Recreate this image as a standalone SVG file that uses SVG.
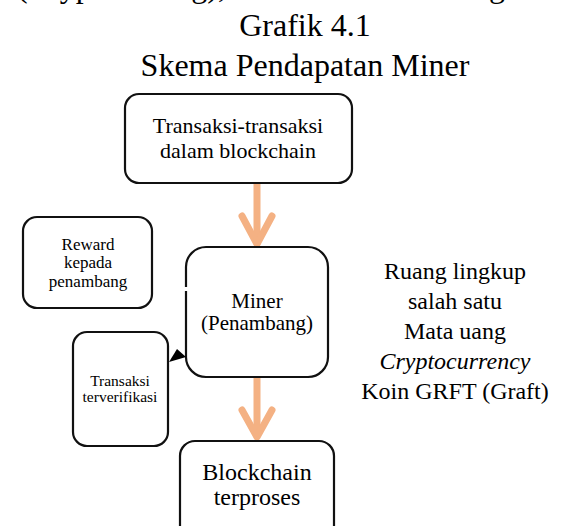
<svg xmlns="http://www.w3.org/2000/svg" width="564" height="526" viewBox="0 0 564 526">
<style>
text{font-family:'Liberation Serif','DejaVu Serif',serif;fill:#000}
.box{fill:#fff;stroke:#111;stroke-width:2.2}
.flow{fill:none;stroke:#F4B183;stroke-width:7;stroke-linecap:round;stroke-linejoin:round}
.c{text-anchor:middle}
</style>
<rect width="564" height="526" fill="#fff"/>
<text x="17" y="-3" font-size="32" font-family="Liberation Serif, serif">(Cryptomining), adalah salah satu kegiatan</text>
<text class="c" x="305" y="36" font-size="32" font-family="Liberation Serif, serif">Grafik 4.1</text>
<text class="c" x="305" y="76" font-size="32" font-family="Liberation Serif, serif">Skema Pendapatan Miner</text>

<g id="connectors">
  <line class="flow" x1="257" y1="184" x2="257" y2="243"/>
  <polyline class="flow" points="242,216 257,244 272,216"/>
  <line class="flow" x1="257" y1="378" x2="257" y2="435"/>
  <polyline class="flow" points="242,410 257,437 272,410"/>
</g>

<g id="node-transaksi" font-family="Liberation Serif, serif">
  <rect class="box" x="125" y="94" width="227" height="89" rx="14"/>
  <text class="c" x="238" y="133" font-size="22">Transaksi-transaksi</text>
  <text class="c" x="238" y="158" font-size="22">dalam blockchain</text>
</g>

<g id="node-reward" font-family="Liberation Serif, serif">
  <rect class="box" x="23" y="217" width="129" height="91" rx="14"/>
  <text class="c" x="88" y="250" font-size="17">Reward</text>
  <text class="c" x="88" y="268" font-size="17">kepada</text>
  <text class="c" x="88" y="287" font-size="17">penambang</text>
</g>

<g id="node-miner" font-family="Liberation Serif, serif">
  <rect class="box" x="186" y="247" width="142" height="130" rx="20"/>
  <rect x="184" y="287" width="4" height="4" fill="#fff"/>
  <text class="c" x="257" y="308" font-size="21">Miner</text>
  <text class="c" x="257" y="330" font-size="21">(Penambang)</text>
</g>

<g id="node-terverifikasi" font-family="Liberation Serif, serif">
  <rect class="box" x="73" y="332" width="95" height="114" rx="14"/>
  <text class="c" x="120" y="386" font-size="15.5">Transaksi</text>
  <text class="c" x="120" y="402" font-size="15.5">terverifikasi</text>
</g>

<g id="connector-verify">
  <polygon points="169,362 177,349 186,357" fill="#000"/>
</g>

<g id="node-blockchain" font-family="Liberation Serif, serif">
  <rect class="box" x="180" y="441" width="154" height="100" rx="15"/>
  <text class="c" x="257" y="480" font-size="24">Blockchain</text>
  <text class="c" x="257" y="505" font-size="24">terproses</text>
</g>

<g id="note" font-family="Liberation Serif, serif">
  <text class="c" x="455" y="279" font-size="24">Ruang lingkup</text>
  <text class="c" x="455" y="309" font-size="24">salah satu</text>
  <text class="c" x="455" y="339" font-size="24">Mata uang</text>
  <text class="c" x="455" y="369" font-size="24" font-style="italic">Cryptocurrency</text>
  <text class="c" x="455" y="399" font-size="24">Koin GRFT (Graft)</text>
</g>
</svg>
